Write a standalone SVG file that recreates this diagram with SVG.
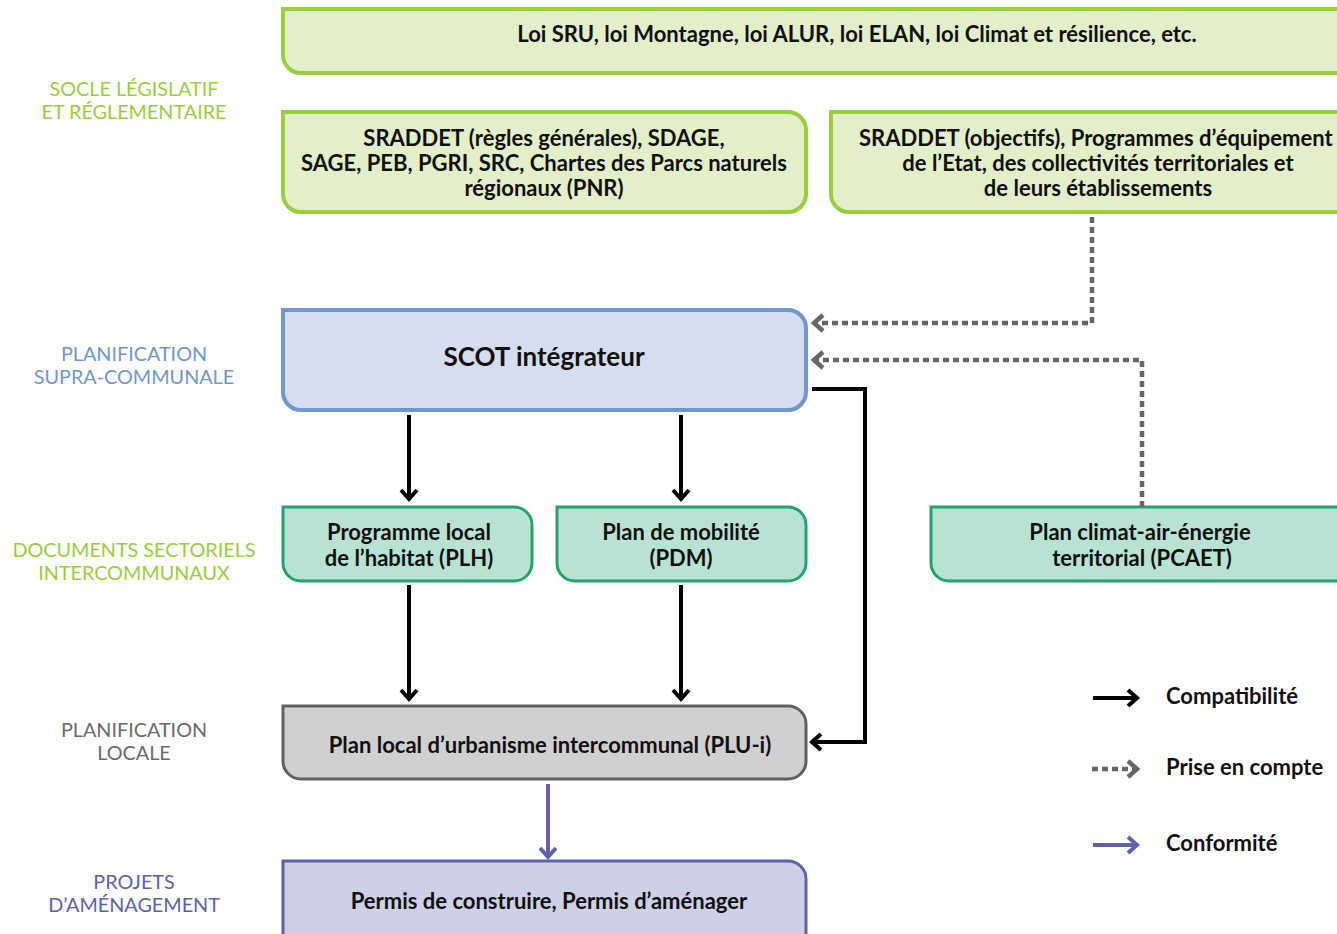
<svg xmlns="http://www.w3.org/2000/svg" width="1337" height="934" viewBox="0 0 1337 934">
<defs>
<style>
.t{font-family:Lato,"Noto Sans","Liberation Sans",sans-serif;font-weight:bold;font-size:22px;fill:#111;text-anchor:middle}
.lab{font-family:Lato,"Noto Sans","Liberation Sans",sans-serif;font-size:19.8px;text-anchor:middle}
.g1{fill:#E2EFC8;stroke:#9ACD3E;stroke-width:4}
.g2{fill:#D4DEEE;stroke:#7097CB;stroke-width:4}
.g3{fill:#B8E3D3;stroke:#22A36E;stroke-width:3}
.g4{fill:#D0D0D0;stroke:#5F6060;stroke-width:3}
.g5{fill:#CDD0E6;stroke:#5B62AE;stroke-width:3}
.cb{fill:none;stroke:#000;stroke-width:4}
.cd{fill:none;stroke:#666;stroke-width:4.5;stroke-dasharray:6 4}
.cp{fill:none;stroke:#5B62AE;stroke-width:4}
</style>
<marker id="mb" markerUnits="userSpaceOnUse" markerWidth="20" markerHeight="20" viewBox="-12 -10 20 20" refX="0" refY="0" orient="auto">
<path d="M-9,-8 L0,0 L-9,8" fill="none" stroke="#000" stroke-width="4"/>
</marker>
<marker id="md" markerUnits="userSpaceOnUse" markerWidth="20" markerHeight="20" viewBox="-12 -10 20 20" refX="0" refY="0" orient="auto">
<path d="M-9,-8 L0,0 L-9,8" fill="none" stroke="#666" stroke-width="4.5"/>
</marker>
<marker id="mp" markerUnits="userSpaceOnUse" markerWidth="20" markerHeight="20" viewBox="-12 -10 20 20" refX="0" refY="0" orient="auto">
<path d="M-9,-8 L0,0 L-9,8" fill="none" stroke="#5B62AE" stroke-width="4"/>
</marker>
</defs>
<rect width="1337" height="934" fill="#fff"/>

<g id="labels">
<text class="lab" fill="#9ACD3E" x="134" y="96">SOCLE LÉGISLATIF</text>
<text class="lab" fill="#9ACD3E" x="134" y="119">ET RÉGLEMENTAIRE</text>
<text class="lab" fill="#7097CB" x="134" y="361">PLANIFICATION</text>
<text class="lab" fill="#7097CB" x="134" y="384">SUPRA-COMMUNALE</text>
<text class="lab" fill="#9ACD3E" x="134" y="557">DOCUMENTS SECTORIELS</text>
<text class="lab" fill="#9ACD3E" x="134" y="580">INTERCOMMUNAUX</text>
<text class="lab" fill="#6a6a6a" x="134" y="737">PLANIFICATION</text>
<text class="lab" fill="#6a6a6a" x="134" y="760">LOCALE</text>
<text class="lab" fill="#5B62AE" x="134" y="889">PROJETS</text>
<text class="lab" fill="#5B62AE" x="134" y="912">D’AMÉNAGEMENT</text>
</g>

<g id="lois">
<path class="g1" d="M283,9 H1350 V73 H301 A18,18 0 0 1 283,55 Z"/>
<text class="t" x="857" y="42">Loi SRU, loi Montagne, loi ALUR, loi ELAN, loi Climat et résilience, etc.</text>
</g>
<g id="sraddet1">
<path class="g1" d="M283,112 H788 A18,18 0 0 1 806,130 V194 A18,18 0 0 1 788,212 H301 A18,18 0 0 1 283,194 Z"/>
<text class="t" x="544" y="146">SRADDET (règles générales), SDAGE,</text>
<text class="t" x="544" y="171">SAGE, PEB, PGRI, SRC, Chartes des Parcs naturels</text>
<text class="t" x="544" y="196">régionaux (PNR)</text>
</g>
<g id="sraddet2">
<path class="g1" d="M831,112 H1350 V212 H849 A18,18 0 0 1 831,194 Z"/>
<text class="t" x="1098" y="146" style="text-anchor:start" dx="-239">SRADDET (objectifs), Programmes d’équipement</text>
<text class="t" x="1098" y="171">de  l’Etat, des collectivités territoriales et</text>
<text class="t" x="1098" y="196">de leurs établissements</text>
</g>
<g id="scot">
<path class="g2" d="M283,310 H788 A18,18 0 0 1 806,328 V392 A18,18 0 0 1 788,410 H301 A18,18 0 0 1 283,392 Z"/>
<text class="t" x="544" y="366" style="font-size:26px">SCOT intégrateur</text>
</g>
<g id="plh">
<path class="g3" d="M283,507 H514 A18,18 0 0 1 532,525 V563 A18,18 0 0 1 514,581 H301 A18,18 0 0 1 283,563 Z"/>
<text class="t" x="409" y="540">Programme local</text>
<text class="t" x="409" y="566">de l’habitat (PLH)</text>
</g>
<g id="pdm">
<path class="g3" d="M557,507 H788 A18,18 0 0 1 806,525 V563 A18,18 0 0 1 788,581 H575 A18,18 0 0 1 557,563 Z"/>
<text class="t" x="681" y="540">Plan de mobilité</text>
<text class="t" x="681" y="566">(PDM)</text>
</g>
<g id="pcaet">
<path class="g3" d="M931,507 H1350 V581 H949 A18,18 0 0 1 931,563 Z"/>
<text class="t" x="1140" y="540">Plan climat-air-énergie</text>
<text class="t" x="1142" y="566">territorial (PCAET)</text>
</g>
<g id="plu">
<path class="g4" d="M283,706 H788 A18,18 0 0 1 806,724 V761 A18,18 0 0 1 788,779 H301 A18,18 0 0 1 283,761 Z"/>
<text class="t" x="550" y="753">Plan local d’urbanisme intercommunal (PLU-i)</text>
</g>
<g id="permis">
<path class="g5" d="M283,861 H788 A18,18 0 0 1 806,879 V950 H283 Z"/>
<text class="t" x="549" y="909">Permis de construire, Permis d’aménager</text>
</g>

<g id="connectors">
<path class="cb" d="M409,415 V499" marker-end="url(#mb)"/>
<path class="cb" d="M681,415 V499" marker-end="url(#mb)"/>
<path class="cb" d="M409,585 V699" marker-end="url(#mb)"/>
<path class="cb" d="M681,585 V699" marker-end="url(#mb)"/>
<path class="cb" d="M812,389 H865 V742 H812" marker-end="url(#mb)"/>
<path class="cd" d="M1092,217 V323 H814" marker-end="url(#md)"/>
<path class="cd" d="M1142,507 V360 H814" marker-end="url(#md)"/>
<path class="cp" d="M548,784 V857" marker-end="url(#mp)"/>
</g>

<g id="legend">
<path class="cb" d="M1093,698 H1137" marker-end="url(#mb)"/>
<text class="t" x="1166" y="704" style="text-anchor:start">Compatibilité</text>
<path class="cd" d="M1092,769 H1137" marker-end="url(#md)"/>
<text class="t" x="1166" y="775" style="text-anchor:start">Prise en compte</text>
<path class="cp" d="M1093,845 H1137" marker-end="url(#mp)"/>
<text class="t" x="1166" y="851" style="text-anchor:start">Conformité</text>
</g>
</svg>
